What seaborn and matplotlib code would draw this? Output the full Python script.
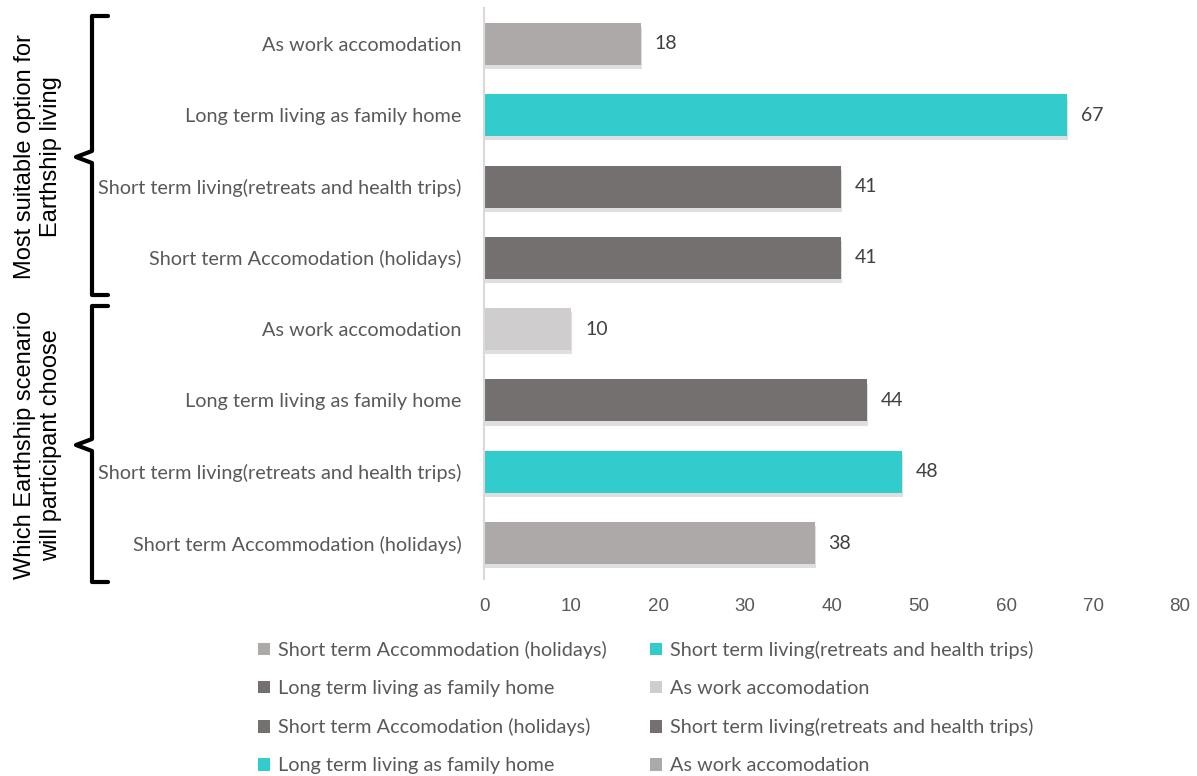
import matplotlib
matplotlib.use("Agg")
import matplotlib.pyplot as plt
import matplotlib.patheffects as pe
from matplotlib.lines import Line2D
from matplotlib.patches import Patch
import pandas as pd
import seaborn as sns

# bars listed top to bottom
bar_labels = [
    "As work accomodation",
    "Long term living as family home",
    "Short term living(retreats and health trips)",
    "Short term Accomodation (holidays)",
    "As work accomodation",
    "Long term living as family home",
    "Short term living(retreats and health trips)",
    "Short term Accommodation (holidays)",
]
bar_values = [18, 67, 41, 41, 10, 44, 48, 38]
bar_colors = ["#ADA9A9", "#33CCCC", "#757070", "#757070",
              "#CFCDCD", "#757070", "#33CCCC", "#ADA9A9"]
group_titles = ["Most suitable option for\nEarthship living",
                "Which Earthship scenario\nwill participant choose"]
x_ticks = [0, 10, 20, 30, 40, 50, 60, 70, 80]

sns.set_theme(style="white")
plt.rcParams["font.family"] = ["Lato", "DejaVu Sans"]

df = pd.DataFrame({"key": [f"bar{i}" for i in range(len(bar_values))],
                   "value": bar_values})

fig = plt.figure(figsize=(11.97, 7.76), dpi=100)
ax = fig.add_axes([0.4044, 0.2543, 0.5814, 0.735])

sns.barplot(data=df, x="value", y="key", hue="key", palette=bar_colors,
            legend=False, width=0.59, saturation=1, ax=ax)

shadow = [pe.SimplePatchShadow(offset=(1, -3), shadow_rgbFace="#808080",
                               alpha=0.25), pe.Normal()]
for patch in ax.patches:
    patch.set_path_effects(shadow)
    patch.set_edgecolor("none")

for i, v in enumerate(bar_values):
    ax.text(v + 1.6, i, str(v), va="center", ha="left", fontsize=14,
            color="#404040")

ax.set_xlim(0, 80)
ax.set_ylim(7.5, -0.5)
ax.set_xticks(x_ticks)
ax.set_xticklabels([str(t) for t in x_ticks], fontsize=13.5, color="#595959",
                   family=["Liberation Sans", "DejaVu Sans"])
ax.set_yticks(range(len(bar_labels)))
ax.set_yticklabels(bar_labels, fontsize=14.3, color="#595959")
ax.tick_params(axis="x", length=0, pad=14)
ax.tick_params(axis="y", length=0, pad=16)
ax.set_xlabel("")
ax.set_ylabel("")
for side in ["top", "right", "bottom"]:
    ax.spines[side].set_visible(False)
ax.spines["left"].set_color("#D9D9D9")
ax.spines["left"].set_linewidth(1.5)

# brackets for the two groups (figure pixel coords -> fraction)
W, H = 1197, 776


def bracket(y_top, y_bot, y_mid):
    xs = [108 / W, 92 / W, 92 / W, 76 / W, 92 / W, 92 / W, 108 / W]
    ys = [1 - y_top / H, 1 - y_top / H, 1 - (y_mid - 6) / H,
          1 - y_mid / H, 1 - (y_mid + 6) / H, 1 - y_bot / H, 1 - y_bot / H]
    fig.add_artist(Line2D(xs, ys, color="black", lw=3,
                          solid_joinstyle="round", solid_capstyle="round"))


bracket(16, 295, 157)
bracket(306, 582, 445)

for title, ymid in zip(group_titles, [157, 445]):
    fig.text(38 / W, 1 - ymid / H, title, rotation=90, ha="center",
             va="center", fontsize=17, color="black",
             family=["Liberation Sans", "DejaVu Sans"], linespacing=1.2)

# legend lists bars bottom to top, row by row in two columns
order = list(range(len(bar_values)))[::-1]
handles = [Patch(facecolor=bar_colors[i], edgecolor="none") for i in order]
names = [bar_labels[i] for i in order]
# reorder so column-major fill displays row-major
rm_handles = handles[0::2] + handles[1::2]
rm_names = names[0::2] + names[1::2]
fig.legend(rm_handles, rm_names, ncol=2, loc="upper left",
           bbox_to_anchor=(258 / W, 1 - 641 / H), frameon=False,
           fontsize=14.3, labelcolor="#595959", handlelength=0.6,
           handleheight=0.6, handletextpad=0.4, labelspacing=1.06,
           columnspacing=2.2, borderaxespad=0, borderpad=0)

fig.savefig("out.png", dpi=100)
